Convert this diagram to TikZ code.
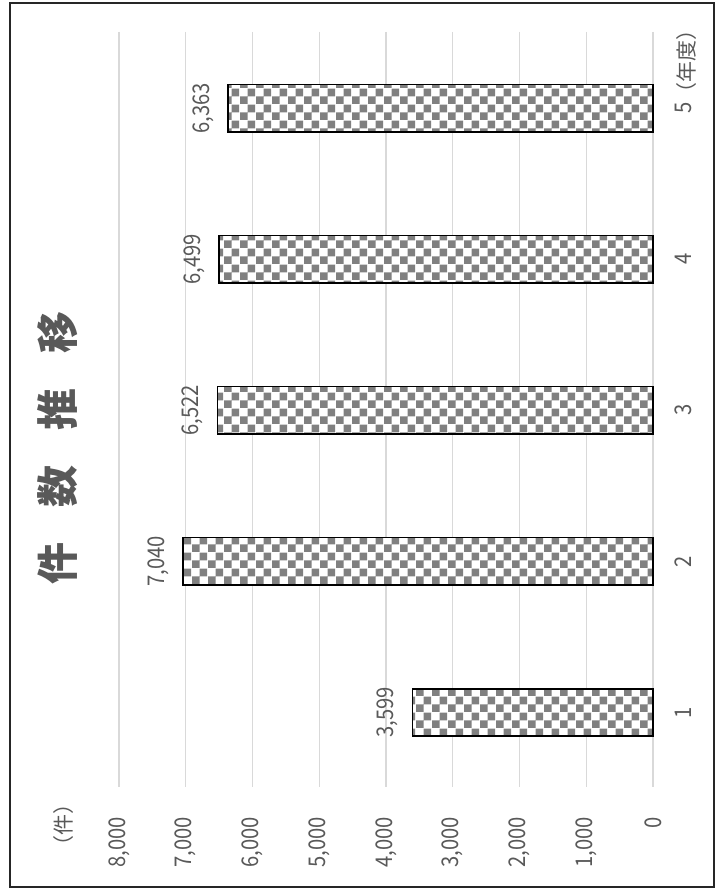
\documentclass[tikz,border=0pt]{standalone}
\usepackage{fontspec}
\newfontfamily\jp{Noto Sans CJK JP}
\newfontfamily\numf{Noto Sans CJK JP}[FakeStretch=0.88]
\usetikzlibrary{patterns}
\pgfdeclarepatternformonly{checkereight}{\pgfpointorigin}{\pgfqpoint{16pt}{16pt}}{\pgfqpoint{16pt}{16pt}}{%
  \pgfpathrectangle{\pgfpointorigin}{\pgfqpoint{8pt}{8pt}}%
  \pgfpathrectangle{\pgfqpoint{8pt}{8pt}}{\pgfqpoint{8pt}{8pt}}%
  \pgfusepath{fill}}
\definecolor{txtc}{HTML}{595959}
\definecolor{gridc}{HTML}{D9D9D9}
\definecolor{chkc}{HTML}{808080}
\tikzset{
  numlab/.style={font=\numf\fontsize{23pt}{23pt}\selectfont, text=txtc, inner sep=0pt, rotate=90},
  jplab/.style={font=\jp\fontsize{21pt}{21pt}\selectfont, text=txtc, inner sep=0pt, rotate=90},
  titlelab/.style={font=\jp\bfseries\fontsize{42pt}{42pt}\selectfont, text=txtc, inner sep=0pt, rotate=90},
  gridline/.style={draw=gridc, line width=1.2pt},
  barframe/.style={draw=black, line width=1.5pt},
  outerframe/.style={draw=black!85, line width=2pt}
}
\begin{document}
\begin{tikzpicture}[x=1pt,y=-1pt]
\useasboundingbox (0,0) rectangle (716,888);
\fill[white] (0,0) rectangle (716,888);
\draw[outerframe] (9.5,3.5) rectangle (714,886.5);
% gridlines and value axis labels
\foreach \i/\t in {0/0,1/{1,000},2/{2,000},3/{3,000},4/{4,000},5/{5,000},6/{6,000},7/{7,000},8/{8,000}}{
  \draw[gridline] ({653-66.75*\i},32) -- ({653-66.75*\i},787);
  \node[numlab, anchor=east] (ax\i) at ({653-66.75*\i},817) {\t};
}
% bars
\foreach \k/\v/\t in {1/3599/{3,599},2/7040/{7,040},3/6522/{6,522},4/6499/{6,499},5/6363/{6,363}}{
  \pgfmathsetmacro{\yc}{712.5-151.075*(\k-1)}
  \pgfmathsetmacro{\xl}{653-\v*0.06675}
  \fill[white] (\xl,\yc-23.7) rectangle (653,\yc+23.7);
  \fill[pattern=checkereight, pattern color=chkc] (\xl,\yc-23.7) rectangle (653,\yc+23.7);
  \draw[barframe] (\xl,\yc-23.7) rectangle (653,\yc+23.7);
  \node[numlab] (val\k) at (\xl-25,\yc) {\t};
  \node[numlab] (cat\k) at (683.5,\yc) {\k};
}
\node[jplab] (unitx) at (687,62) {（年度）};
\node[jplab] (unity) at (63.5,825) {（件）};
\node[titlelab] (title) at (58,447.5) {件\kern35pt 数\kern35pt 推\kern35pt 移};
\end{tikzpicture}
\end{document}
